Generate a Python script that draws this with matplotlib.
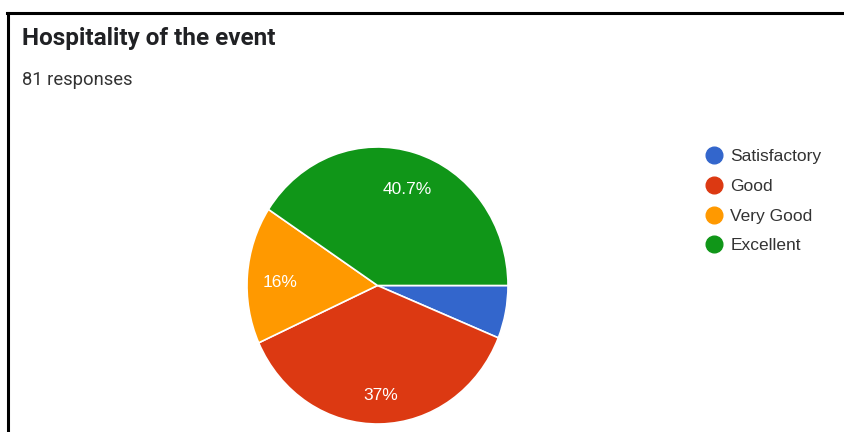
import matplotlib.pyplot as plt
from matplotlib.lines import Line2D
from matplotlib.transforms import offset_copy

# dati del grafico
categories = ['Satisfactory', 'Good', 'Very Good', 'Excellent']
counts = [5, 30, 13, 33]
colors = ['#3366CC', '#DC3912', '#FF9900', '#109618']
title = 'Hospitality of the event'
subtitle = '81 responses'

W, H = 844, 432
fig = plt.figure(figsize=(W / 100, H / 100), dpi=100)


def px(x0, y0, x1, y1):
    # converte un rettangolo in pixel (origine in alto a sinistra) in coordinate figura
    return [x0 / W, 1 - y1 / H, (x1 - x0) / W, (y1 - y0) / H]


def fmt_pct(p):
    # le fette piccole non hanno etichetta
    if p < 7:
        return ''
    return f"{round(p, 1):g}%"


ax = fig.add_axes(px(247, 147, 508, 424))
wedges, texts, autotexts = ax.pie(
    counts, colors=colors, startangle=0, counterclock=False,
    autopct=fmt_pct, pctdistance=0.76,
    wedgeprops=dict(edgecolor='white', linewidth=1.2),
    textprops=dict(color='white', fontsize=12.5, family='Liberation Sans'))
ax.set_aspect('auto')
ax.set_xlim(-1, 1)
ax.set_ylim(-1, 1)

# le etichette nel riferimento stanno un po' più in basso
for t in autotexts:
    t.set_transform(offset_copy(t.get_transform(), fig=fig, x=1, y=-5, units='dots'))

# titolo e sottotitolo
fig.text(22 / W, 1 - 39 / H, title, fontsize=17.5, fontweight='bold',
         family='Roboto', color='#202124', va='center', ha='left')
fig.text(22 / W, 1 - 80 / H, subtitle, fontsize=13.2, family='Roboto',
         color='#333333', va='center', ha='left')

# legenda con cerchi
handles = [Line2D([], [], marker='o', linestyle='none', markersize=12,
                  markerfacecolor=c, markeredgecolor=c) for c in colors]
fig.legend(handles, categories, loc='upper left',
           bbox_to_anchor=(705 / W, 1 - 149 / H), frameon=False,
           prop=dict(family='Liberation Sans', size=12.5),
           labelcolor='#333333', handlelength=1.0, handletextpad=0.45,
           labelspacing=0.84, borderpad=0, borderaxespad=0)

# bordo dello screenshot
fig.add_artist(Line2D([7 / W, 1], [1 - 13 / H, 1 - 13 / H], color='black',
                      linewidth=2.2, transform=fig.transFigure))
fig.add_artist(Line2D([7.5 / W, 7.5 / W], [0, 1 - 13 / H], color='black',
                      linewidth=2.2, transform=fig.transFigure))

fig.savefig('out.png', dpi=100)
